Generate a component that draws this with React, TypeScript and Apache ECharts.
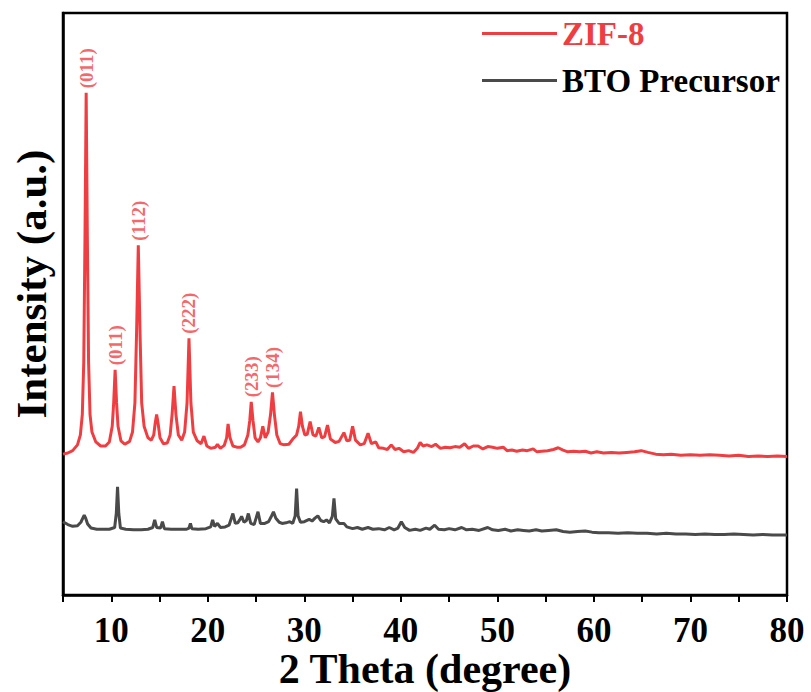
import React, { useEffect, useRef } from "react";
import * as echarts from "echarts";

const xTickLabels = ["10", "20", "30", "40", "50", "60", "70", "80"];
const seriesNames = ["ZIF-8", "BTO Precursor"];

const zif8: [number, number][] = [
  [5.0, 24.2], [5.5, 24.4], [6.0, 24.8], [6.5, 25.8], [6.8, 27.5], [7.0, 31], [7.15, 40], [7.28, 62], [7.4, 86.3], [7.52, 62], [7.65, 40], [7.8, 31], [8.0, 28], [8.4, 26.3], [8.9, 25.6], [9.4, 25.6], [9.8, 26.3], [10.1, 29], [10.25, 33], [10.4, 38.7], [10.55, 33], [10.7, 29], [11.0, 26.5], [11.4, 25.9], [11.9, 26.4], [12.2, 28], [12.45, 33], [12.62, 45], [12.8, 60.1], [12.98, 45], [13.15, 33], [13.4, 29], [13.8, 27], [14.15, 26.6], [14.4, 27.5], [14.55, 29.5], [14.7, 31.0], [14.85, 29.5], [15.05, 27], [15.4, 26], [15.8, 26.1], [16.1, 27.5], [16.3, 31], [16.5, 35.9], [16.7, 31], [16.95, 27.5], [17.3, 26.6], [17.6, 28], [17.85, 33], [18.05, 44.1], [18.25, 33], [18.5, 28], [18.9, 26.5], [19.3, 26.0], [19.6, 27.3], [19.9, 25.6], [20.3, 25.2], [20.8, 25.4], [21.0, 25.9], [21.3, 25.2], [21.7, 25.7], [21.95, 27], [22.1, 29.4], [22.3, 27], [22.6, 25.6], [23.0, 25.4], [23.4, 25.4], [23.8, 25.8], [24.15, 27.5], [24.35, 30], [24.5, 33.2], [24.68, 30], [24.9, 27], [25.2, 26.3], [25.45, 27], [25.7, 29.0], [25.95, 27], [26.25, 28], [26.5, 31], [26.7, 34.8], [26.9, 31], [27.15, 27.5], [27.5, 26.0], [27.9, 25.8], [28.4, 25.9], [28.8, 26.8], [29.2, 27.5], [29.42, 29], [29.6, 31.5], [29.8, 29], [30.05, 27.5], [30.3, 27.6], [30.6, 29.8], [30.9, 27.5], [31.2, 27.3], [31.5, 28.8], [31.8, 27.0], [32.1, 27.2], [32.4, 29.2], [32.7, 26.8], [33.2, 26.2], [33.6, 26.4], [34.1, 27.9], [34.4, 26.5], [34.7, 26.6], [35.0, 29.0], [35.3, 26.6], [35.8, 25.8], [36.2, 26.0], [36.6, 27.8], [36.95, 26.0], [37.4, 26.3], [37.7, 25.3], [38.2, 25.2], [38.6, 25.0], [39.0, 25.8], [39.4, 25.0], [39.8, 25.2], [40.3, 24.6], [40.8, 24.8], [41.3, 24.5], [41.7, 25.2], [42.0, 26.2], [42.3, 25.6], [42.7, 25.8], [43.2, 25.5], [43.6, 25.9], [44.1, 25.2], [44.6, 25.4], [45.1, 25.3], [45.6, 25.5], [46.1, 25.4], [46.6, 26.0], [47.0, 25.2], [47.5, 25.6], [48.0, 25.6], [48.5, 25.1], [49.0, 25.5], [49.5, 25.4], [50.0, 25.2], [50.6, 25.4], [51.0, 24.8], [51.5, 24.9], [52.0, 24.7], [52.6, 24.9], [53.1, 24.8], [53.7, 25.1], [54.1, 24.6], [54.6, 24.7], [55.2, 24.8], [55.8, 25.0], [56.3, 25.3], [56.8, 24.9], [57.3, 24.6], [57.9, 24.7], [58.5, 24.6], [59.1, 24.7], [59.7, 24.4], [60.3, 24.6], [61.0, 24.4], [61.8, 24.5], [62.6, 24.4], [63.4, 24.5], [64.2, 24.6], [64.9, 24.8], [65.6, 24.5], [66.4, 24.2], [67.2, 24.1], [68.0, 24.2], [69.0, 24.0], [70.0, 24.1], [71.0, 24.0], [72.0, 24.1], [73.0, 24.0], [74.0, 23.9], [75.0, 24.0], [76.0, 23.8], [77.0, 23.9], [78.0, 23.8], [79.0, 23.9], [80.0, 23.8],
];

const bto: [number, number][] = [
  [5.0, 12.6], [5.5, 12.1], [6.0, 11.8], [6.5, 11.9], [6.85, 12.5], [7.05, 13.2], [7.2, 13.7], [7.35, 13.2], [7.55, 12.2], [7.9, 11.5], [8.5, 11.3], [9.2, 11.3], [9.8, 11.3], [10.35, 11.6], [10.52, 14.0], [10.65, 18.6], [10.78, 14.0], [10.95, 11.5], [11.5, 11.3], [12.3, 11.2], [13.1, 11.2], [13.8, 11.3], [14.3, 11.6], [14.5, 12.9], [14.7, 11.6], [15.1, 11.5], [15.3, 12.6], [15.5, 11.4], [16.2, 11.3], [17.0, 11.3], [17.8, 11.3], [18.05, 11.5], [18.2, 12.3], [18.35, 11.4], [19.0, 11.3], [19.8, 11.4], [20.3, 11.7], [20.5, 12.9], [20.7, 11.8], [21.0, 12.3], [21.3, 11.6], [21.8, 11.7], [22.2, 12.0], [22.6, 14.0], [22.85, 12.3], [23.1, 12.4], [23.3, 12.9], [23.5, 13.5], [23.75, 12.5], [24.0, 12.8], [24.2, 14.0], [24.45, 12.3], [24.8, 12.1], [25.2, 14.3], [25.45, 12.3], [25.9, 12.3], [26.3, 12.6], [26.55, 13.4], [26.8, 14.3], [27.05, 13.2], [27.4, 12.5], [27.7, 12.3], [28.1, 12.4], [28.5, 12.6], [28.8, 12.3], [29.05, 13.6], [29.2, 18.3], [29.35, 13.6], [29.6, 12.5], [30.0, 12.6], [30.5, 13.0], [30.8, 12.7], [31.1, 13.2], [31.4, 13.6], [31.7, 12.8], [32.0, 12.6], [32.3, 12.9], [32.6, 12.4], [32.9, 13.5], [33.07, 16.6], [33.25, 13.1], [33.6, 12.3], [34.1, 12.3], [34.4, 11.7], [35.0, 11.4], [35.5, 11.6], [36.0, 11.3], [36.6, 11.6], [37.1, 11.3], [37.7, 11.4], [38.3, 11.2], [38.8, 11.6], [39.3, 11.2], [39.7, 11.5], [40.05, 12.6], [40.4, 11.6], [40.9, 11.1], [41.5, 11.3], [42.0, 11.1], [42.6, 11.5], [43.0, 11.3], [43.5, 12.0], [43.9, 11.3], [44.5, 11.2], [45.0, 11.4], [45.6, 11.2], [46.3, 11.6], [46.8, 11.2], [47.4, 11.3], [48.1, 11.1], [49.0, 11.6], [49.5, 11.2], [50.1, 11.1], [50.8, 11.3], [51.4, 11.0], [52.1, 11.2], [52.7, 11.1], [53.3, 11.0], [54.0, 11.2], [54.6, 11.0], [55.3, 11.1], [56.1, 11.2], [56.8, 10.9], [57.5, 10.8], [58.3, 10.9], [59.1, 11.0], [59.8, 10.8], [60.5, 10.7], [61.5, 10.7], [62.5, 10.6], [63.5, 10.7], [64.5, 10.6], [65.5, 10.6], [66.5, 10.5], [67.5, 10.6], [68.5, 10.5], [69.5, 10.5], [70.5, 10.4], [71.5, 10.5], [72.5, 10.4], [73.5, 10.4], [74.5, 10.5], [75.5, 10.4], [76.5, 10.3], [77.5, 10.4], [78.5, 10.3], [79.3, 10.3], [80.0, 10.3],
];

const peakLabels = ["(011)", "(011)", "(112)", "(222)", "(233)", "(134)"];
const peakPositions = [7.4, 10.4, 12.8, 18.05, 24.5, 26.7];
const peakHeights = [86.3, 38.7, 60.1, 44.1, 33.2, 34.8];

const RED = "#ef3e42";
const GRAY = "#4a4a4a";
const FONT = "'Liberation Serif', 'Times New Roman', serif";

export default function App() {
  const ref = useRef<HTMLDivElement>(null);
  useEffect(() => {
    if (!ref.current) return;
    const chart = echarts.init(ref.current, null, { renderer: "svg" });
    const axisLine = { show: true, onZero: false, lineStyle: { color: "#000", width: 2.5 } };
    chart.setOption({
      animation: false,
      backgroundColor: "#fff",
      grid: {
        left: 63,
        right: 24,
        top: 13,
        bottom: 97,
        outerBoundsMode: "none",
        containLabel: false,
        show: true,
        borderColor: "#000",
        borderWidth: 2.5,
        backgroundColor: "transparent",
      },
      legend: {
        orient: "vertical",
        left: 477,
        top: 12,
        icon: "rect",
        itemWidth: 75,
        itemHeight: 3,
        itemGap: 14,
        data: [
          { name: seriesNames[0], textStyle: { color: RED } },
          { name: seriesNames[1], textStyle: { color: "#000" } },
        ],
        textStyle: { fontFamily: FONT, fontWeight: "bold", fontSize: 33, lineHeight: 30 },
      },
      xAxis: {
        type: "value",
        min: 5,
        max: 80,
        interval: 5,
        position: "bottom",
        axisLine,
        axisTick: { show: true, inside: false, length: 7, lineStyle: { width: 2, color: "#000" } },
        splitLine: { show: false },
        axisLabel: {
          margin: 20,
          color: "#000",
          fontFamily: FONT,
          fontWeight: "bold",
          fontSize: 35,
          lineHeight: 30,
          formatter: (v: number) => (xTickLabels.includes(String(v)) ? String(v) : ""),
        },
        name: "2 Theta (degree)",
        nameLocation: "middle",
        nameGap: 57,
        nameMoveOverlap: false,
        nameTextStyle: { color: "#000", fontFamily: FONT, fontWeight: "bold", fontSize: 42, lineHeight: 34 },
      },
      yAxis: {
        type: "value",
        min: 0,
        max: 100,
        position: "left",
        axisLine,
        axisTick: { show: false },
        axisLabel: { show: false },
        splitLine: { show: false },
      },
      graphic: [
        {
          type: "text",
          x: 31,
          y: 284,
          rotation: Math.PI / 2,
          style: {
            text: "Intensity (a.u.)",
            font: `bold 43px ${FONT}`,
            fill: "#000",
            textAlign: "center",
            textVerticalAlign: "middle",
          },
        },
      ],
      series: [
        {
          name: seriesNames[0],
          type: "line",
          data: zif8,
          symbol: "none",
          lineStyle: { color: RED, width: 3 },
          itemStyle: { color: RED },
          z: 3,
        },
        {
          name: seriesNames[1],
          type: "line",
          data: bto,
          symbol: "none",
          lineStyle: { color: GRAY, width: 3 },
          itemStyle: { color: GRAY },
          z: 2,
        },
        {
          name: "peaks",
          type: "scatter",
          symbolSize: 1,
          itemStyle: { color: "rgba(0,0,0,0)" },
          data: peakPositions.map((p, i) => ({ value: [p, peakHeights[i]], label: { formatter: peakLabels[i] } })),
          label: {
            show: true,
            position: "top",
            distance: 4,
            rotate: 90,
            align: "left",
            verticalAlign: "middle",
            color: RED,
            fontFamily: FONT,
            fontWeight: "bold",
            fontSize: 19,
          },
          z: 4,
        },
      ],
    });
    return () => chart.dispose();
  }, []);
  return <div ref={ref} style={{ position: "fixed", left: 0, top: 0, width: 811, height: 692 }} />;
}
